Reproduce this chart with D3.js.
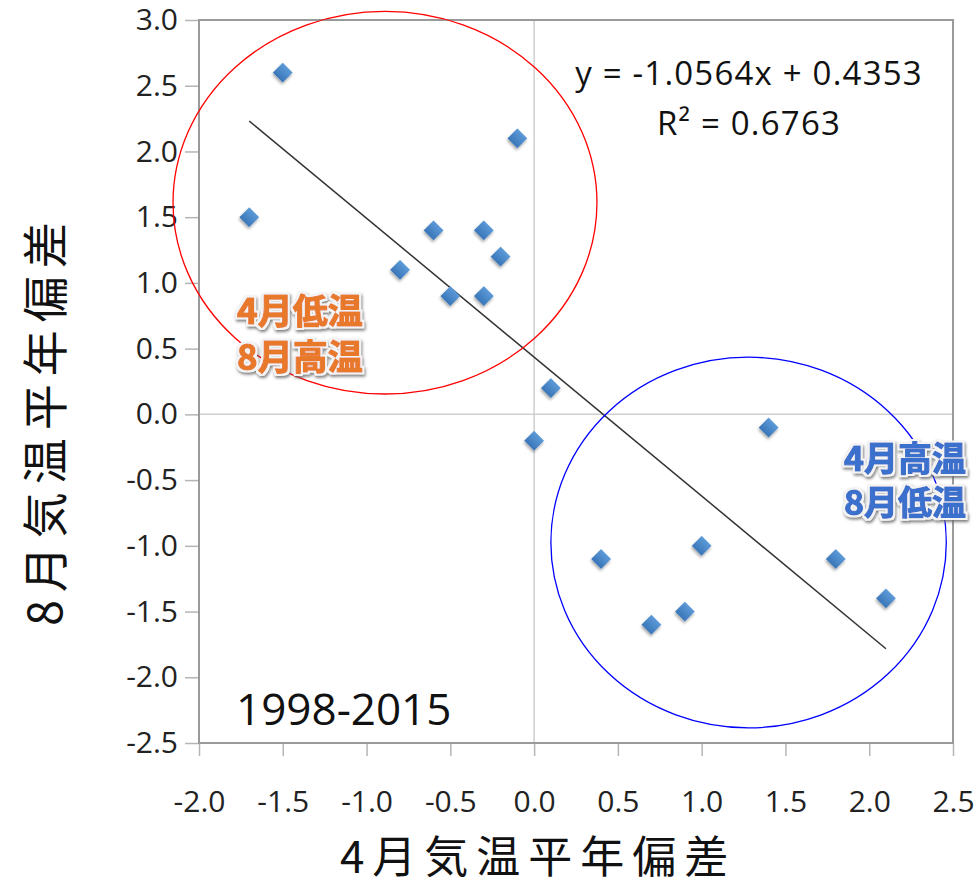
<!DOCTYPE html>
<html>
<head>
<meta charset="utf-8">
<script src="https://cdn.jsdelivr.net/npm/d3@7"></script>
<style>
  body { margin: 0; background: #fff; }
  svg text { font-family: "Open Sans", "Noto Sans CJK JP", sans-serif; }
</style>
</head>
<body>
<div id="chart"></div>
<script>
// April anomaly (x) vs August anomaly (y), 1998-2015
var aprAnom = [-1.5, -0.1, -1.7, -0.6, -0.3, -0.2, -0.8, -0.5, -0.3, 0.1, 0.0, 1.4, 0.4, 1.0, 1.8, 2.1, 0.9, 0.7];
var augAnom = [2.6, 2.1, 1.5, 1.4, 1.4, 1.2, 1.1, 0.9, 0.9, 0.2, -0.2, -0.1, -1.1, -1.0, -1.1, -1.4, -1.5, -1.6];
var xTicks = [-2.0, -1.5, -1.0, -0.5, 0.0, 0.5, 1.0, 1.5, 2.0, 2.5];
var yTicks = [3.0, 2.5, 2.0, 1.5, 1.0, 0.5, 0.0, -0.5, -1.0, -1.5, -2.0, -2.5];
var slope = -1.0564, intercept = 0.4353, r2 = 0.6763;

var W = 976, H = 883;
var margin = {top: 20, right: 23, bottom: 140, left: 199},
    width = W - margin.left - margin.right,
    height = H - margin.top - margin.bottom;

// plain hyphen instead of unicode minus
var fmt = function(d) { return d.toFixed(1); };

var svg = d3.select("#chart").append("svg")
    .attr("width", W).attr("height", H);

var defs = svg.append("defs");
var sh = defs.append("filter").attr("id", "shadow")
    .attr("x", "-50%").attr("y", "-50%").attr("width", "200%").attr("height", "200%");
sh.append("feDropShadow").attr("dx", 1).attr("dy", 2).attr("stdDeviation", 1.5)
    .attr("flood-color", "#000").attr("flood-opacity", 0.35);
var grad = defs.append("linearGradient").attr("id", "dia")
    .attr("x1", 0).attr("y1", 0).attr("x2", 0).attr("y2", 1);
grad.append("stop").attr("offset", "0%").attr("stop-color", "#5d9ad8");
grad.append("stop").attr("offset", "100%").attr("stop-color", "#3a76b8");

// label effect: light rim + soft grey shadow, all in one filter
var lf = defs.append("filter").attr("id", "lbl")
    .attr("x", "-10%").attr("y", "-20%").attr("width", "120%").attr("height", "140%");
lf.append("feMorphology").attr("in", "SourceAlpha").attr("operator", "dilate")
    .attr("radius", 1.6).attr("result", "dil");
lf.append("feGaussianBlur").attr("in", "dil").attr("stdDeviation", 1.8).attr("result", "bl");
lf.append("feOffset").attr("in", "bl").attr("dx", 1).attr("dy", 2).attr("result", "off");
lf.append("feFlood").attr("flood-color", "#666").attr("flood-opacity", 0.85).attr("result", "fs");
lf.append("feComposite").attr("in", "fs").attr("in2", "off").attr("operator", "in").attr("result", "shd");
lf.append("feFlood").attr("flood-color", "#f3f3f3").attr("result", "fr");
lf.append("feComposite").attr("in", "fr").attr("in2", "dil").attr("operator", "in").attr("result", "rim");
var mg = lf.append("feMerge");
mg.append("feMergeNode").attr("in", "shd");
mg.append("feMergeNode").attr("in", "rim");
mg.append("feMergeNode").attr("in", "SourceGraphic");

var g = svg.append("g")
    .attr("transform", "translate(" + margin.left + "," + margin.top + ")");

var x = d3.scaleLinear().domain([-2.0, 2.5]).range([0, width]);
var y = d3.scaleLinear().domain([-2.5, 3.0]).range([height, 0]);

// zero lines
g.append("line").attr("x1", x(0)).attr("x2", x(0)).attr("y1", 0).attr("y2", height)
    .attr("stroke", "#cfcfcf").attr("stroke-width", 1.5);
g.append("line").attr("x1", 0).attr("x2", width).attr("y1", y(0)).attr("y2", y(0))
    .attr("stroke", "#cfcfcf").attr("stroke-width", 1.5);

// axes
var xAxis = g.append("g")
    .attr("transform", "translate(0," + height + ")")
    .call(d3.axisBottom(x).tickValues(xTicks).tickFormat(fmt)
      .tickSizeInner(13).tickSizeOuter(0));
var yAxis = g.append("g")
    .call(d3.axisLeft(y).tickValues(yTicks).tickFormat(fmt)
      .tickSizeInner(14).tickSizeOuter(0).tickPadding(7));
[xAxis, yAxis].forEach(function(a) {
  a.select(".domain").remove();
  a.selectAll("line").attr("stroke", "#b5b5b5").attr("stroke-width", 1.5);
  a.selectAll("text").attr("fill", "#222").style("font-size", "30px")
    .style("font-family", "'Open Sans', sans-serif");
});
xAxis.selectAll("text").attr("y", 69).attr("dy", 0);

// plot frame
g.append("rect").attr("width", width).attr("height", height)
    .attr("fill", "none").attr("stroke", "#9a9a9a").attr("stroke-width", 2);

// trend line
var xr = d3.extent(aprAnom);
g.append("line")
    .attr("x1", x(xr[0])).attr("y1", y(slope * xr[0] + intercept))
    .attr("x2", x(xr[1])).attr("y2", y(slope * xr[1] + intercept))
    .attr("stroke", "#333").attr("stroke-width", 1.5);

// points
var pts = aprAnom.map(function(d, i) { return {x: d, y: augAnom[i]}; });
g.selectAll(".pt").data(pts).enter().append("rect")
    .attr("class", "pt")
    .attr("x", -7).attr("y", -7).attr("width", 14).attr("height", 14)
    .attr("fill", "url(#dia)")
    .attr("filter", "url(#shadow)")
    .attr("transform", function(d) {
      return "translate(" + x(d.x) + "," + y(d.y) + ") rotate(45)";
    });

// ellipses
function ell(cx, cy, rx, ry, col) {
  g.append("ellipse")
    .attr("cx", x(cx)).attr("cy", y(cy))
    .attr("rx", x(cx + rx) - x(cx)).attr("ry", y(cy) - y(cy + ry))
    .attr("fill", "none").attr("stroke", col).attr("stroke-width", 1.3);
}
ell(-0.89, 1.61, 1.265, 1.455, "#ff0000");
ell(1.28, -0.975, 1.18, 1.41, "#0000ff");

// regression text
svg.append("text").attr("x", 749).attr("y", 85).attr("text-anchor", "middle")
    .style("font-size", "33px").style("letter-spacing", "1.2px").attr("fill", "#111")
    .text("y = -" + Math.abs(slope).toFixed(4) + "x + " + intercept.toFixed(4));
svg.append("text").attr("x", 749).attr("y", 135).attr("text-anchor", "middle")
    .style("font-size", "33px").style("letter-spacing", "1.2px").attr("fill", "#111")
    .text("R² = " + r2.toFixed(4));

svg.append("text").attr("x", 236).attr("y", 725)
    .style("font-size", "44px").attr("fill", "#111")
    .text("1998-2015");

// annotation labels
function label(xp, yp, lines, col, anchor, dyl, fs) {
  var t = svg.append("text").attr("text-anchor", anchor)
      .style("font-size", fs + "px").style("font-weight", "bold")
      .style("font-family", "'Noto Sans CJK JP', sans-serif")
      .attr("fill", col).attr("stroke", col).attr("stroke-width", 1.2)
      .attr("stroke-linejoin", "round")
      .attr("filter", "url(#lbl)");
  lines.forEach(function(line, i) {
    t.append("tspan").attr("x", xp).attr("y", yp + i * dyl).text(line);
  });
}
label(237, 324, ["4月低温", "8月高温"], "#e8782a", "start", 46, 35);
label(966, 471, ["4月高温", "8月低温"], "#3a6fcc", "end", 44, 34);

// axis titles
svg.append("text").attr("x", margin.left + x(0) + 4).attr("y", 873)
    .attr("text-anchor", "middle").style("font-size", "44px")
    .style("letter-spacing", "8px").attr("fill", "#111")
    .style("font-family", "'Noto Sans CJK JP', sans-serif")
    .text("4月気温平年偏差");
svg.append("text")
    .attr("transform", "translate(62,420) rotate(-90)")
    .attr("text-anchor", "middle").style("font-size", "46px")
    .style("letter-spacing", "8px").attr("fill", "#111")
    .style("font-family", "'Noto Sans CJK JP', sans-serif")
    .text("8月気温平年偏差");
</script>
</body>
</html>
